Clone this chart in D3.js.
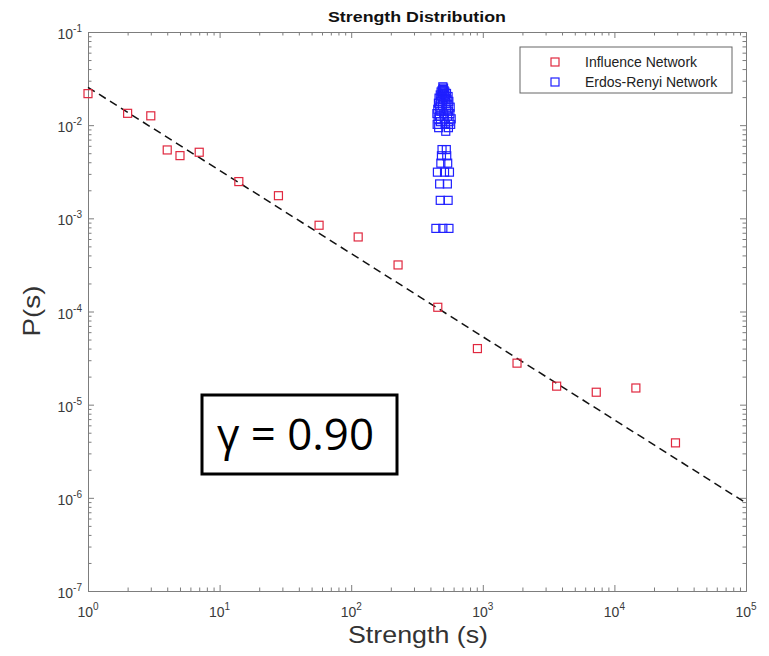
<!DOCTYPE html>
<html>
<head>
<meta charset="utf-8">
<script src="https://cdn.jsdelivr.net/npm/d3@7"></script>
<style>
  html, body { margin: 0; padding: 0; background: #fff; }
  svg { display: block; }
</style>
</head>
<body>
<div id="chart"></div>
<script>
// ---------- data ----------
const influenceStrength = [1, 2, 3, 4, 5, 7, 14, 28, 57, 113, 227, 455, 910, 1820, 3640, 7280, 14560, 29120];
const influenceProb = [0.0218, 0.0134, 0.0126, 0.00542, 0.00471, 0.00512, 0.00248, 0.00175, 0.000843, 0.000631,
                       0.000316, 0.000111, 4.0e-5, 2.79e-5, 1.58e-5, 1.36e-5, 1.51e-5, 3.89e-6];

const erStrength = [440, 497, 553, 475, 545, 470, 538, 452, 512, 558, 480, 541, 485, 532, 490, 528,
                    523, 462, 548, 450, 520, 570, 476, 555, 458, 510, 575, 468, 540, 448, 505, 562,
                    480, 548, 455, 530, 470, 565, 493, 545, 460, 525, 478, 552, 500, 535, 465, 520,
                    488, 545, 475, 512, 495, 530, 482, 515, 490, 508, 497, 503, 497];
const erProb = [7.8e-4, 7.8e-4, 7.8e-4, 1.56e-3, 1.56e-3, 2.34e-3, 2.34e-3, 3.13e-3, 3.13e-3, 3.13e-3,
                3.91e-3, 3.91e-3, 4.69e-3, 4.69e-3, 5.47e-3, 5.47e-3,
                8.6e-3, 9.4e-3, 9.4e-3, 1.02e-2, 1.02e-2, 1.02e-2, 1.09e-2, 1.09e-2, 1.17e-2, 1.17e-2, 1.17e-2,
                1.25e-2, 1.25e-2, 1.33e-2, 1.33e-2, 1.33e-2, 1.41e-2, 1.41e-2, 1.48e-2, 1.48e-2, 1.56e-2, 1.56e-2,
                1.64e-2, 1.64e-2, 1.72e-2, 1.72e-2, 1.80e-2, 1.80e-2, 1.88e-2, 1.88e-2, 1.95e-2, 1.95e-2,
                2.03e-2, 2.03e-2, 2.11e-2, 2.11e-2, 2.19e-2, 2.19e-2, 2.27e-2, 2.27e-2, 2.34e-2, 2.34e-2,
                2.42e-2, 2.50e-2, 2.58e-2];

const fitStrength = [1, 1e5];
const fitProb = [0.0255, 8.8e-7];

const xMajorTicks = [1, 10, 100, 1000, 10000, 100000];
const xTickExponents = ["0", "1", "2", "3", "4", "5"];
const yMajorTicks = [1e-7, 1e-6, 1e-5, 1e-4, 1e-3, 1e-2, 1e-1];
const yTickExponents = ["-7", "-6", "-5", "-4", "-3", "-2", "-1"];

const seriesNames = ["Influence Network", "Erdos-Renyi Network"];
const seriesColors = ["#e0283f", "#1f1fff"];
const titleText = "Strength Distribution";
const xLabel = "Strength (s)";
const yLabel = "P(s)";
const gammaText = "\u03B3 = 0.90";

// ---------- layout ----------
const W = 769, H = 656;
const L = 88, R = 746, T = 32, B = 591;

const svg = d3.select("#chart").append("svg")
  .attr("width", W).attr("height", H)
  .style("font-family", "'Liberation Sans', Arial, Helvetica, sans-serif");

svg.append("rect").attr("width", W).attr("height", H).attr("fill", "#fff");

const x = d3.scaleLog().domain([1, 1e5]).range([L, R]);
const y = d3.scaleLog().domain([1e-7, 1e-1]).range([B, T]);

// minor tick values
function minors(lo, hi) {
  const out = [];
  for (let e = lo; e < hi; e++) {
    for (let m = 2; m <= 9; m++) out.push(m * Math.pow(10, e));
  }
  return out;
}
const xMinor = minors(0, 5);
const yMinor = minors(-7, -1);

const axisColor = "#7d7d7d";
const MAJ = 6, MIN = 3.5;

function styleAxis(g) {
  g.selectAll("path.domain").attr("stroke", axisColor).attr("stroke-width", 1);
  g.selectAll(".tick line").attr("stroke", axisColor).attr("stroke-width", 1);
  g.selectAll(".tick text").remove();
}

// bottom
svg.append("g").attr("transform", `translate(0,${B})`)
  .call(d3.axisBottom(x).tickValues(xMajorTicks).tickSizeInner(-MAJ).tickSizeOuter(0).tickFormat(""))
  .call(styleAxis);
svg.append("g").attr("transform", `translate(0,${B})`)
  .call(d3.axisBottom(x).tickValues(xMinor).tickSizeInner(-MIN).tickSizeOuter(0).tickFormat(""))
  .call(styleAxis);
// top
svg.append("g").attr("transform", `translate(0,${T})`)
  .call(d3.axisTop(x).tickValues(xMajorTicks).tickSizeInner(-MAJ).tickSizeOuter(0).tickFormat(""))
  .call(styleAxis);
svg.append("g").attr("transform", `translate(0,${T})`)
  .call(d3.axisTop(x).tickValues(xMinor).tickSizeInner(-MIN).tickSizeOuter(0).tickFormat(""))
  .call(styleAxis);
// left
svg.append("g").attr("transform", `translate(${L},0)`)
  .call(d3.axisLeft(y).tickValues(yMajorTicks).tickSizeInner(-MAJ).tickSizeOuter(0).tickFormat(""))
  .call(styleAxis);
svg.append("g").attr("transform", `translate(${L},0)`)
  .call(d3.axisLeft(y).tickValues(yMinor).tickSizeInner(-MIN).tickSizeOuter(0).tickFormat(""))
  .call(styleAxis);
// right
svg.append("g").attr("transform", `translate(${R},0)`)
  .call(d3.axisRight(y).tickValues(yMajorTicks).tickSizeInner(-MAJ).tickSizeOuter(0).tickFormat(""))
  .call(styleAxis);
svg.append("g").attr("transform", `translate(${R},0)`)
  .call(d3.axisRight(y).tickValues(yMinor).tickSizeInner(-MIN).tickSizeOuter(0).tickFormat(""))
  .call(styleAxis);

const labelColor = "#3a3a3a";

// x tick labels
xMajorTicks.forEach((v, i) => {
  const t = svg.append("text")
    .attr("x", x(v)).attr("y", B + 26)
    .attr("text-anchor", "middle")
    .attr("fill", labelColor)
    .attr("font-size", 14);
  t.append("tspan").text("10");
  t.append("tspan").attr("dy", -7).attr("font-size", 10).text(xTickExponents[i]);
});

// y tick labels
yMajorTicks.forEach((v, i) => {
  const t = svg.append("text")
    .attr("x", L - 6).attr("y", y(v) + 7)
    .attr("text-anchor", "end")
    .attr("fill", labelColor)
    .attr("font-size", 14);
  t.append("tspan").text("10");
  t.append("tspan").attr("dy", -7).attr("font-size", 10).text(yTickExponents[i]);
});

// fit line
const fitData = fitStrength.map((s, i) => [s, fitProb[i]]);
svg.append("path")
  .datum(fitData)
  .attr("d", d3.line().x(d => x(d[0])).y(d => y(d[1])))
  .attr("fill", "none")
  .attr("stroke", "#111")
  .attr("stroke-width", 1.5)
  .attr("stroke-dasharray", "8,5");

// markers
const MS = 8;
function drawSquares(xs, ys, color) {
  svg.append("g").selectAll("rect")
    .data(xs.map((s, i) => [s, ys[i]]))
    .join("rect")
    .attr("x", d => x(d[0]) - MS / 2)
    .attr("y", d => y(d[1]) - MS / 2)
    .attr("width", MS).attr("height", MS)
    .attr("fill", "none")
    .attr("stroke", color)
    .attr("stroke-width", 1.2);
}
drawSquares(erStrength, erProb, seriesColors[1]);
drawSquares(influenceStrength, influenceProb, seriesColors[0]);

// title
svg.append("text")
  .attr("x", (L + R) / 2).attr("y", 22)
  .attr("text-anchor", "middle")
  .attr("font-size", 15).attr("font-weight", "bold")
  .attr("fill", "#111")
  .attr("textLength", 178).attr("lengthAdjust", "spacingAndGlyphs")
  .text(titleText);

// x label
svg.append("text")
  .attr("x", 418).attr("y", 643)
  .attr("text-anchor", "middle")
  .attr("font-size", 24)
  .attr("fill", "#333")
  .attr("textLength", 140).attr("lengthAdjust", "spacingAndGlyphs")
  .text(xLabel);

// y label
svg.append("text")
  .attr("transform", `translate(40,${311}) rotate(-90)`)
  .attr("text-anchor", "middle")
  .attr("font-size", 24)
  .attr("fill", "#333")
  .attr("textLength", 51).attr("lengthAdjust", "spacingAndGlyphs")
  .text(yLabel);

// legend
const leg = svg.append("g");
leg.append("rect")
  .attr("x", 520).attr("y", 47).attr("width", 212).attr("height", 46)
  .attr("fill", "#fff").attr("stroke", "#666").attr("stroke-width", 1);
seriesNames.forEach((name, i) => {
  const cy = 62 + i * 20;
  leg.append("rect")
    .attr("x", 555 - 4).attr("y", cy - 4).attr("width", 8).attr("height", 8)
    .attr("fill", "none").attr("stroke", seriesColors[i]).attr("stroke-width", 1.2);
  leg.append("text")
    .attr("x", 585).attr("y", cy + 5)
    .attr("font-size", 14).attr("fill", "#222")
    .text(name);
});

// gamma annotation box
svg.append("rect")
  .attr("x", 202).attr("y", 395).attr("width", 195).attr("height", 79)
  .attr("fill", "#fff").attr("stroke", "#000").attr("stroke-width", 3);
svg.append("text")
  .attr("x", 217).attr("y", 450)
  .attr("font-family", "'Open Sans', Carlito, Calibri, sans-serif")
  .attr("font-size", 44)
  .attr("fill", "#000")
  .attr("textLength", 157).attr("lengthAdjust", "spacingAndGlyphs")
  .text(gammaText);
</script>
</body>
</html>
